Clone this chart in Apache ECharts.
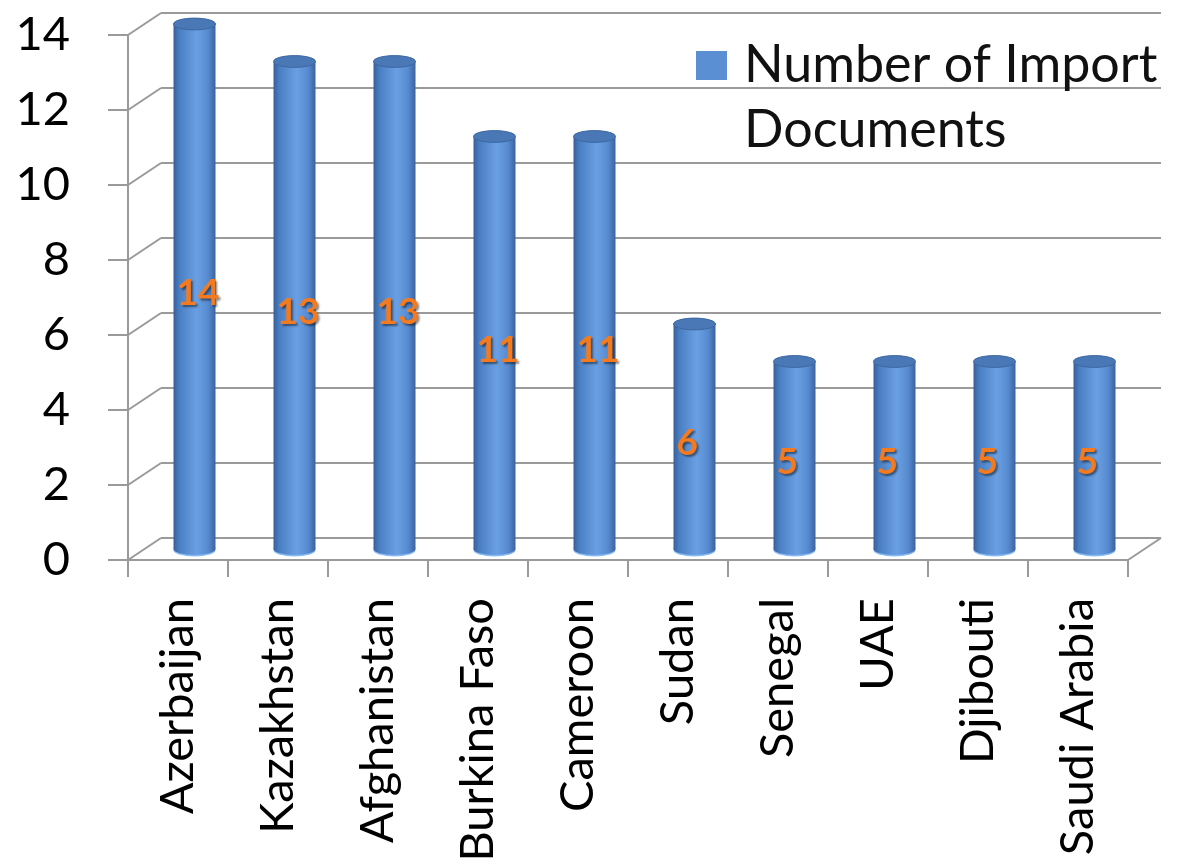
<!DOCTYPE html>
<html>
<head>
<meta charset="utf-8">
<script src="https://cdn.jsdelivr.net/npm/echarts@6/dist/echarts.min.js"></script>
<style>
  html, body { margin: 0; padding: 0; background: #ffffff; }
  #chart { width: 1185px; height: 867px; }
</style>
</head>
<body>
<div id="chart"></div>
<script>
// Values
const countries = ['Azerbaijan', 'Kazakhstan', 'Afghanistan', 'Burkina Faso', 'Cameroon',
                   'Sudan', 'Senegal', 'UAE', 'Djibouti', 'Saudi Arabia'];
const importDocs = [14, 13, 13, 11, 11, 6, 5, 5, 5, 5];
const yTicks = [0, 2, 4, 6, 8, 10, 12, 14];
const seriesName = 'Number of Import Documents';

// Layout of the pseudo-3D box: front plane, back wall, and the middle plane the cylinders stand in
const FONT = 'Lato';
const GRID_GRAY = '#9a9a9a';
const front = { left: 128, top: 35, width: 1000, height: 525 };
const depth = { dx: 33, dy: -22 };
const back = { left: front.left + depth.dx, top: front.top + depth.dy, width: front.width, height: front.height };
const mid = { left: front.left + depth.dx / 2, top: front.top + depth.dy / 2, width: front.width, height: front.height };

const valueAxisBase = { type: 'value', min: yTicks[0], max: yTicks[yTicks.length - 1], interval: 2 };
const categoryAxisBase = { type: 'category', data: countries, boundaryGap: true };

const chart = echarts.init(document.getElementById('chart'), null, { renderer: 'canvas' });

const bodyStops = [
  { offset: 0, color: '#36609a' },
  { offset: 0.14, color: '#4a7ec2' },
  { offset: 0.55, color: '#6aa0e3' },
  { offset: 0.82, color: '#578bd0' },
  { offset: 1, color: '#3a649f' }
];

function renderCylinder(params, api) {
  const i = api.value(0);
  const v = api.value(1);
  const topPt = api.coord([i, v]);
  const basePt = api.coord([i, 0]);
  const bw = api.size([1, 0])[0] * 0.42;
  const rx = bw / 2;
  const ry = bw * 0.14;
  const cx = topPt[0];
  const grad = () => new echarts.graphic.LinearGradient(0, 0, 1, 0, bodyStops);
  const labelY = api.coord([i, v / 2])[1] + 7;
  return {
    type: 'group',
    children: [
      { type: 'ellipse', shape: { cx: cx, cy: basePt[1] + 1.5, rx: rx, ry: ry }, style: { fill: '#8abcf2' } },
      { type: 'ellipse', shape: { cx: cx, cy: basePt[1], rx: rx, ry: ry }, style: { fill: grad() } },
      { type: 'rect', shape: { x: cx - rx, y: topPt[1], width: bw, height: basePt[1] - topPt[1] }, style: { fill: grad() } },
      { type: 'ellipse', shape: { cx: cx, cy: topPt[1], rx: rx, ry: ry }, style: { fill: '#4a78b6', stroke: '#3d679f', lineWidth: 1 } },
      {
        type: 'text', x: cx - 18, y: labelY,
        style: {
          text: String(v), fill: '#F47A1F', font: 'bold 37px ' + FONT,
          align: 'left', verticalAlign: 'middle',
          textShadowColor: 'rgba(0,0,0,0.45)', textShadowBlur: 2,
          textShadowOffsetX: 2, textShadowOffsetY: 2
        }
      }
    ]
  };
}

function renderDepthEdges(params, api) {
  const cs = params.coordSys;
  const v = api.value(1);
  const y = api.coord([0, v])[1];
  const style = { stroke: GRID_GRAY, lineWidth: 2 };
  const children = [
    { type: 'line', shape: { x1: cs.x, y1: y, x2: cs.x + depth.dx, y2: y + depth.dy }, style: style }
  ];
  if (v === yTicks[0]) {
    children.push({ type: 'line', shape: { x1: cs.x + cs.width, y1: y, x2: cs.x + cs.width + depth.dx, y2: y + depth.dy }, style: style });
    children.push({ type: 'line', shape: { x1: cs.x + depth.dx, y1: y + depth.dy, x2: cs.x + cs.width + depth.dx, y2: y + depth.dy }, style: style });
  }
  return { type: 'group', children: children };
}

const axisText = { fontFamily: FONT, fontSize: 47, color: '#000000' };

chart.setOption({
  animation: false,
  backgroundColor: '#ffffff',
  grid: [
    { left: front.left, top: front.top, width: front.width, height: front.height },
    { left: back.left, top: back.top, width: back.width, height: back.height },
    { left: mid.left, top: mid.top, width: mid.width, height: mid.height }
  ],
  xAxis: [
    Object.assign({}, categoryAxisBase, {
      gridIndex: 0,
      axisLine: { show: true, lineStyle: { color: GRID_GRAY, width: 2 } },
      axisTick: { show: true, interval: 0, length: 17, lineStyle: { color: GRID_GRAY, width: 2 } },
      axisLabel: Object.assign({ interval: 0, rotate: 90, margin: 38 }, axisText),
      splitLine: { show: false }
    }),
    Object.assign({}, categoryAxisBase, { gridIndex: 1, show: false }),
    Object.assign({}, categoryAxisBase, { gridIndex: 2, show: false })
  ],
  yAxis: [
    Object.assign({}, valueAxisBase, {
      gridIndex: 0,
      axisLine: { show: true, lineStyle: { color: GRID_GRAY, width: 2 } },
      axisTick: { show: true, length: 20, lineStyle: { color: GRID_GRAY, width: 2 } },
      axisLabel: Object.assign({ margin: 58 }, axisText),
      splitLine: { show: false }
    }),
    Object.assign({}, valueAxisBase, {
      gridIndex: 1,
      axisLine: { show: false }, axisTick: { show: false }, axisLabel: { show: false },
      splitLine: { show: true, lineStyle: { color: GRID_GRAY, width: 2 } }
    }),
    Object.assign({}, valueAxisBase, {
      gridIndex: 2, show: false, splitLine: { show: false }
    })
  ],
  legend: {
    left: 696, top: -32, padding: 0,
    icon: 'rect', itemWidth: 31, itemHeight: 29,
    data: [seriesName],
    // first line is left blank so the square sits beside "Number of Import"
    formatter: (name) => '\n' + name.replace('Import ', 'Import\n'),
    textStyle: { fontFamily: FONT, fontSize: 52, color: '#111111', lineHeight: 65, padding: [0, 0, 0, 12] }
  },
  series: [
    {
      type: 'custom',
      name: 'depthEdges',
      xAxisIndex: 0, yAxisIndex: 0,
      silent: true, z: 1,
      data: yTicks.map(v => [0, v]),
      renderItem: renderDepthEdges
    },
    {
      type: 'custom',
      name: seriesName,
      xAxisIndex: 2, yAxisIndex: 2,
      z: 3,
      itemStyle: { color: '#5b8fd3' },
      data: importDocs.map((v, i) => [i, v]),
      renderItem: renderCylinder
    }
  ]
});
</script>
</body>
</html>
